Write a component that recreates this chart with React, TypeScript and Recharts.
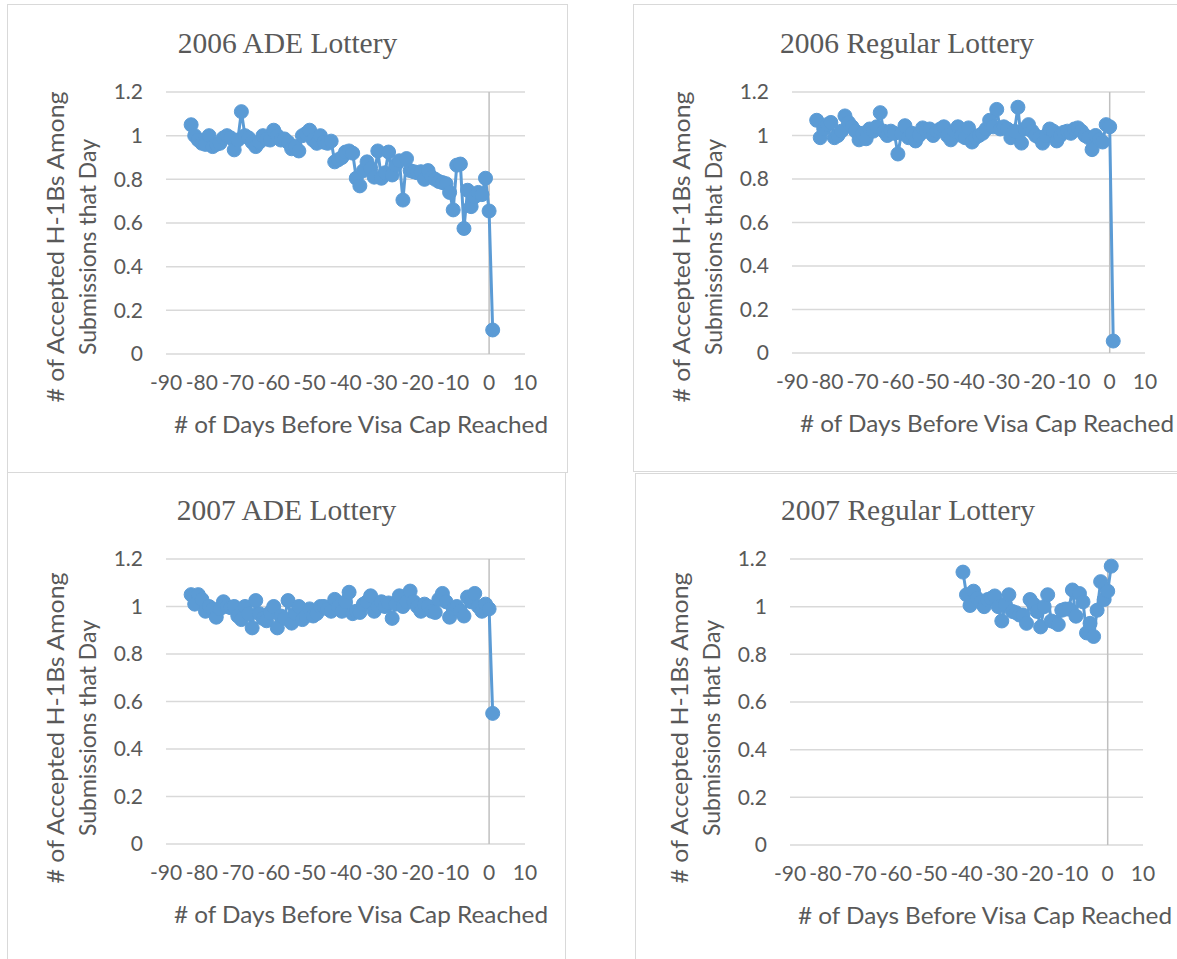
import React from 'react';
import { LineChart, Line, XAxis, YAxis, CartesianGrid, ReferenceLine } from 'recharts';

// axis ticks shared by all four panels
const xTicks = [-90, -80, -70, -60, -50, -40, -30, -20, -10, 0, 10];
const yTicks = [0, 0.2, 0.4, 0.6, 0.8, 1, 1.2];

const xAxisTitle = '# of Days Before Visa Cap Reached';
const yAxisTitle = ['# of Accepted H-1Bs Among', 'Submissions that Day'];

// 2006 ADE lottery
const ade2006Days = [
  -83, -82, -81, -80, -79, -78, -77, -76, -75, -74,
  -73, -72, -71, -70, -69, -68, -67, -66, -65, -64,
  -63, -62, -61, -60, -59, -58, -57, -56, -55, -54,
  -53, -52, -51, -50, -49, -48, -47, -46, -45, -44,
  -43, -42, -41, -40, -39, -38, -37, -36, -35, -34,
  -33, -32, -31, -30, -29, -28, -27, -26, -25, -24,
  -23, -22, -21, -20, -19, -18, -17, -16, -15, -14,
  -13, -12, -11, -10, -9, -8, -7, -6, -5, -4,
  -3, -2, -1, 0, 1,
];
const ade2006Values = [
  1.05, 1.0, 0.98, 0.965, 0.96, 1.0, 0.95, 0.96, 0.965, 0.99,
  1.0, 0.99, 0.935, 0.98, 1.11, 1.0, 0.99, 0.97, 0.95, 0.97,
  1.0, 0.985, 0.98, 1.025, 1.0, 0.98, 0.985, 0.97, 0.94, 0.95,
  0.93, 1.0, 1.01, 1.025, 0.98, 0.965, 1.0, 0.97, 0.965, 0.975,
  0.88, 0.89, 0.9, 0.925, 0.93, 0.92, 0.805, 0.77, 0.84, 0.88,
  0.85, 0.81, 0.93, 0.805, 0.83, 0.925, 0.82, 0.865, 0.885, 0.705,
  0.895, 0.84, 0.835, 0.83, 0.835, 0.8, 0.84, 0.81, 0.8, 0.79,
  0.785, 0.78, 0.74, 0.66, 0.865, 0.87, 0.575, 0.75, 0.675, 0.72,
  0.74, 0.73, 0.805, 0.655, 0.11,
];

// 2006 regular lottery
const reg2006Days = [
  -83, -82, -81, -80, -79, -78, -77, -76, -75, -74,
  -73, -72, -71, -70, -69, -68, -67, -66, -65, -64,
  -63, -62, -61, -60, -59, -58, -57, -56, -55, -54,
  -53, -52, -51, -50, -49, -48, -47, -46, -45, -44,
  -43, -42, -41, -40, -39, -38, -37, -36, -35, -34,
  -33, -32, -31, -30, -29, -28, -27, -26, -25, -24,
  -23, -22, -21, -20, -19, -18, -17, -16, -15, -14,
  -13, -12, -11, -10, -9, -8, -7, -6, -5, -4,
  -3, -2, -1, 0, 1,
];
const reg2006Values = [
  1.07, 0.99, 1.03, 1.05, 1.06, 0.99, 1.0, 1.02, 1.09, 1.06,
  1.04, 1.02, 0.98, 1.01, 0.985, 1.03, 1.02, 1.04, 1.105, 1.02,
  1.0, 1.02, 1.01, 0.915, 1.01, 1.045, 0.99, 1.01, 0.975, 1.0,
  1.035, 1.02, 1.03, 1.0, 1.02, 1.03, 1.04, 1.0, 0.98, 1.02,
  1.04, 1.0, 0.99, 1.035, 0.97, 0.99, 1.0, 1.01, 1.03, 1.07,
  1.04, 1.12, 1.03, 1.04, 1.03, 0.99, 1.02, 1.13, 0.965, 1.03,
  1.05, 1.02, 1.0, 0.99, 0.965, 1.0, 1.03, 1.02, 0.975, 1.0,
  1.015, 1.02, 1.01, 1.03, 1.035, 1.02, 1.0, 0.99, 0.935, 1.0,
  0.98, 0.97, 1.05, 1.04, 0.055,
];

// 2007 ADE lottery
const ade2007Days = [
  -83, -82, -81, -80, -79, -78, -77, -76, -75, -74,
  -73, -72, -71, -70, -69, -68, -67, -66, -65, -64,
  -63, -62, -61, -60, -59, -58, -57, -56, -55, -54,
  -53, -52, -51, -50, -49, -48, -47, -46, -45, -44,
  -43, -42, -41, -40, -39, -38, -37, -36, -35, -34,
  -33, -32, -31, -30, -29, -28, -27, -26, -25, -24,
  -23, -22, -21, -20, -19, -18, -17, -16, -15, -14,
  -13, -12, -11, -10, -9, -8, -7, -6, -5, -4,
  -3, -2, -1, 0, 1,
];
const ade2007Values = [
  1.05, 1.01, 1.05, 1.03, 0.98, 1.0, 0.99, 0.955, 0.99, 1.02,
  1.0, 0.995, 1.0, 0.96, 0.945, 1.0, 0.97, 0.91, 1.025, 0.97,
  0.95, 0.94, 0.975, 1.0, 0.91, 0.96, 0.95, 1.025, 0.93, 0.97,
  1.0, 0.945, 0.96, 0.99, 0.96, 0.97, 1.0, 1.0, 0.99, 0.98,
  1.03, 1.0, 0.98, 1.02, 1.06, 0.97, 0.98, 0.975, 1.01, 1.02,
  1.045, 0.98, 1.0, 1.02, 1.0, 1.015, 0.95, 1.01, 1.045, 1.0,
  1.02, 1.065, 1.02, 1.0, 0.98, 1.01, 1.0, 0.98, 0.975, 1.03,
  1.055, 1.02, 0.955, 0.99, 1.0, 0.98, 0.96, 1.04, 1.02, 1.055,
  1.0, 0.98, 1.01, 0.99, 0.55,
];

// 2007 regular lottery
const reg2007Days = [
  -41, -40, -39, -38, -37, -36, -35, -34, -33, -32,
  -31, -30, -29, -28, -27, -26, -25, -24, -23, -22,
  -21, -20, -19, -18, -17, -16, -15, -14, -13, -12,
  -11, -10, -9, -8, -7, -6, -5, -4, -3, -2,
  -1, 0, 1,
];
const reg2007Values = [
  1.145, 1.05, 1.005, 1.065, 1.035, 1.02, 1.0, 1.03, 1.035, 1.045,
  1.0, 0.94, 1.01, 1.05, 0.98, 0.975, 0.965, 0.965, 0.93, 1.03,
  1.01, 0.98, 0.915, 1.0, 1.05, 0.94, 0.935, 0.925, 0.985, 0.99,
  0.99, 1.07, 0.96, 1.055, 1.02, 0.89, 0.93, 0.875, 0.985, 1.105,
  1.03, 1.065, 1.17,
];

const BLUE = '#5B9BD5';
const GREY_TEXT = '#595959';
const SANS = 'Lato, "Open Sans", sans-serif';
const SERIF = '"Liberation Serif", "Times New Roman", serif';

type Box = { x: number; y: number; w: number; h: number };
type Plot = { l: number; r: number; t: number; b: number };

interface PanelProps {
  title: string;
  days: number[];
  values: number[];
  box: Box;
  plot: Plot;
  yMid: number;
}

const Y_W = 60;
const X_H = 40;

const tickStyle = { fontFamily: SANS, fontSize: 21, fill: GREY_TEXT };

const Panel: React.FC<PanelProps> = ({ title, days, values, box, plot, yMid }) => {
  const data = days.map((day, i) => ({ day, value: values[i] }));
  const margin = {
    left: plot.l - box.x - Y_W,
    right: box.x + box.w - plot.r,
    top: plot.t - box.y,
    bottom: box.y + box.h - plot.b - X_H,
  };
  // local coordinates inside the panel
  const pl = plot.l - box.x;
  const pt = plot.t - box.y;
  const pb = plot.b - box.y;
  const ym = yMid - box.y;

  return (
    <>
      <div
        style={{
          position: 'absolute',
          left: box.x,
          top: box.y,
          width: box.w,
          height: box.h,
          border: '1px solid #d9d9d9',
          boxSizing: 'border-box',
        }}
      />
      <div style={{ position: 'absolute', left: box.x, top: box.y }}>
        <LineChart width={box.w} height={box.h} data={data} margin={margin}>
          <CartesianGrid vertical={false} stroke="#d9d9d9" strokeWidth={1.5} />
          <XAxis
            dataKey="day"
            type="number"
            domain={[-90, 10]}
            ticks={xTicks}
            interval={0}
            height={X_H}
            axisLine={false}
            tickLine={false}
            tickSize={0}
            tickMargin={21}
            tick={tickStyle}
          />
          <YAxis
            type="number"
            domain={[0, 1.2]}
            ticks={yTicks}
            interval={0}
            width={Y_W}
            axisLine={false}
            tickLine={false}
            tickSize={0}
            tickMargin={23}
            tick={tickStyle}
            tickFormatter={(v: number) => String(Math.round(v * 10) / 10)}
          />
          <ReferenceLine x={0} stroke="#c0c0c0" strokeWidth={1.5} />
          <Line
            type="linear"
            dataKey="value"
            stroke={BLUE}
            strokeWidth={3}
            dot={{ r: 7, fill: BLUE, stroke: BLUE, strokeWidth: 1 }}
            activeDot={false}
            isAnimationActive={false}
          />
        </LineChart>
      </div>
      <svg
        width={box.w}
        height={box.h}
        style={{ position: 'absolute', left: box.x, top: box.y, pointerEvents: 'none' }}
      >
        <text x={box.w / 2} y={pt - 39} textAnchor="middle" fontFamily={SERIF} fontSize={29.5} fill={GREY_TEXT}>
          {title}
        </text>
        <text
          x={pl + 195}
          y={pb + 79}
          textAnchor="middle"
          fontFamily={SANS}
          fontSize={24}
          fill={GREY_TEXT}
          textLength={374}
          lengthAdjust="spacingAndGlyphs"
        >
          {xAxisTitle}
        </text>
        <text
          transform={`translate(${pl - 102},${ym}) rotate(-90)`}
          textAnchor="middle"
          fontFamily={SANS}
          fontSize={24}
          fill={GREY_TEXT}
          textLength={311}
          lengthAdjust="spacingAndGlyphs"
        >
          {yAxisTitle[0]}
        </text>
        <text
          transform={`translate(${pl - 70},${ym}) rotate(-90)`}
          textAnchor="middle"
          fontFamily={SANS}
          fontSize={24}
          fill={GREY_TEXT}
          textLength={216}
          lengthAdjust="spacingAndGlyphs"
        >
          {yAxisTitle[1]}
        </text>
      </svg>
    </>
  );
};

export default function App() {
  return (
    <div
      style={{
        position: 'absolute',
        left: 0,
        top: 0,
        width: 1177,
        height: 959,
        overflow: 'hidden',
        background: '#fff',
      }}
    >
      <Panel
        title="2006 ADE Lottery"
        days={ade2006Days}
        values={ade2006Values}
        box={{ x: 7, y: 4, w: 561, h: 469 }}
        plot={{ l: 166, r: 525, t: 92, b: 354 }}
        yMid={247}
      />
      <Panel
        title="2006 Regular Lottery"
        days={reg2006Days}
        values={reg2006Values}
        box={{ x: 633, y: 4, w: 548, h: 468 }}
        plot={{ l: 792, r: 1145, t: 92, b: 353 }}
        yMid={247}
      />
      <Panel
        title="2007 ADE Lottery"
        days={ade2007Days}
        values={ade2007Values}
        box={{ x: 7, y: 472, w: 559, h: 500 }}
        plot={{ l: 166, r: 525, t: 559, b: 844 }}
        yMid={728}
      />
      <Panel
        title="2007 Regular Lottery"
        days={reg2007Days}
        values={reg2007Values}
        box={{ x: 635, y: 473, w: 546, h: 500 }}
        plot={{ l: 790, r: 1143, t: 559, b: 845 }}
        yMid={728}
      />
    </div>
  );
}
